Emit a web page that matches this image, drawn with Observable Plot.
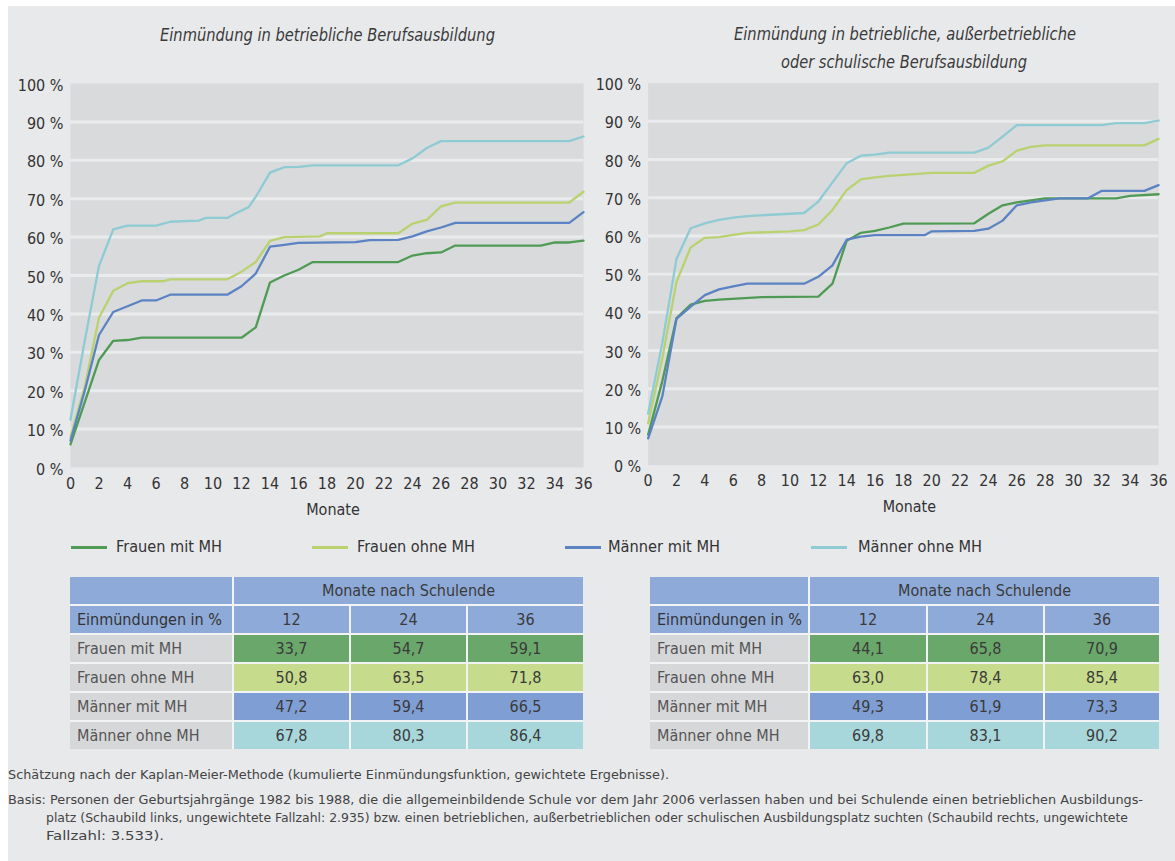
<!DOCTYPE html>
<html><head><meta charset="utf-8">
<script src="https://cdn.jsdelivr.net/npm/d3@7"></script>
<script src="https://cdn.jsdelivr.net/npm/@observablehq/plot@0.6"></script>
<style>
body{margin:0;background:#fff;}
#root{position:relative;width:1175px;height:861px;overflow:hidden;background:#fff;
  font-family:"Liberation Sans Narrow","DejaVu Sans Condensed","Open Sans",sans-serif;font-stretch:condensed;color:#333;}
#panel{position:absolute;left:8px;top:6px;width:1167px;height:855px;background:#e8e9eb;}
.abs{position:absolute;white-space:nowrap;}
.title{font-style:italic;font-weight:300;font-size:17px;color:#3a3a3a;line-height:20px;}
.leg{font-size:16px;color:#333;line-height:18px;}
.sw{position:absolute;height:2.5px;}
.tbl{position:absolute;display:grid;gap:2px;background:#f2f3f4;}
.tbl div{display:flex;align-items:center;justify-content:center;font-size:16px;color:#3a3a3a;white-space:nowrap;}
.tbl div.lab{justify-content:flex-start;padding-left:7px;color:#555;background:#d5d7d9;}
.foot{font-size:13px;color:#444;line-height:16px;}
.plotbox{position:absolute;top:0;}
.plotbox svg{display:block;}
</style>
</head><body>
<div id="root"><div id="panel"></div></div>
<script>
// ---------- data ----------
const seriesNames = ["Frauen mit MH","Frauen ohne MH","Männer mit MH","Männer ohne MH"];
const seriesColors = ["#4f9b55","#b9d26f","#5b82c2","#8ecbd3"];
const cellColors = ["#6aa76a","#c6db8b","#7f9fd4","#a8d7db"];
const headerColor = "#8eaad9";

const xTicks = [0,2,4,6,8,10,12,14,16,18,20,22,24,26,28,30,32,34,36];
const yTicks = [0,10,20,30,40,50,60,70,80,90,100];

// left chart: Einmündung in betriebliche Berufsausbildung  [month, %]
const leftFrauenMit = [[0,6],[1,17],[2,28],[3,33],[4,33.2],[5,33.8],[12,33.8],[13,36.5],[14,48.2],[15,50],[16,51.5],[17,53.5],[23,53.5],[24,55.2],[25,55.8],[26,56],[27,57.8],[33,57.8],[34,58.6],[35,58.6],[36,59.1]];
const leftFrauenOhne = [[0,8],[1,21],[2,39],[3,46],[4,48],[5,48.5],[6.5,48.5],[7,49],[11,49],[12,51],[13,53.5],[14,59],[15,60],[17.5,60.2],[18,61],[23,61],[24,63.5],[25,64.5],[26,68],[27,69],[35,69],[36,71.8]];
const leftMaennerMit = [[0,7],[1,20],[2,34.5],[3,40.5],[4,42],[5,43.5],[6,43.5],[7,45],[11,45],[12,47.2],[13,50.5],[14,57.5],[15,58],[16,58.5],[20,58.7],[21,59.2],[23,59.3],[24,60.2],[25,61.5],[26,62.5],[27,63.7],[35,63.7],[36,66.5]];
const leftMaennerOhne = [[0,12.5],[1,33],[2,52.5],[3,62],[4,63],[6,63],[7,64],[9,64.3],[9.5,65],[11,65],[11.5,66],[12.5,67.8],[13,70.5],[14,76.8],[14.5,77.5],[15,78.2],[16,78.3],[17,78.7],[23,78.7],[24,80.5],[25,83.2],[26,85],[35,85],[36,86.2]];

// right chart: betriebliche, außerbetriebliche oder schulische Berufsausbildung
const rightFrauenMit = [[0,8],[1,22],[2,38.5],[3,42],[4,43],[5,43.3],[8,44],[12,44.1],[13,47.5],[14,58.7],[15,60.8],[16,61.3],[17,62.2],[18,63.2],[23,63.3],[24,65.8],[25,68],[26,68.8],[27,69.3],[28,69.8],[33,69.8],[34,70.5],[36,70.9]];
const rightFrauenOhne = [[0,11],[1,28],[2,48],[3,57],[4,59.5],[5,59.7],[6,60.3],[7,60.8],[10,61.2],[11,61.5],[12,63],[13,66.8],[14,72],[15,74.8],[16,75.3],[17,75.7],[18,76],[20,76.5],[23,76.5],[24,78.4],[25,79.5],[26,82.3],[27,83.3],[28,83.7],[35,83.7],[36,85.4]];
const rightMaennerMit = [[0,7],[1,18],[2,38.3],[3,41.5],[4,44.5],[5,46],[6,46.8],[7,47.5],[11,47.5],[12,49.3],[13,52.3],[14,59],[15,59.8],[16,60.2],[19.5,60.2],[20,61.2],[23,61.3],[24,61.9],[25,64],[26,68],[27,68.8],[28,69.3],[29,69.8],[31,69.8],[32,71.8],[35,71.8],[36,73.3]];
const rightMaennerOhne = [[0,13.5],[1,32],[2,54],[3,62],[4,63.3],[5,64.2],[6,64.8],[7,65.2],[9,65.6],[11,66],[12,69],[13,74],[14,79],[15,81],[16,81.3],[17,81.8],[23,81.8],[24,83.1],[25,86],[26,89],[32,89],[33,89.5],[35,89.5],[36,90.2]];

// tables
const tableMonths = ["12","24","36"];
const tableLeftValues = [[33.7,54.7,59.1],[50.8,63.5,71.8],[47.2,59.4,66.5],[67.8,80.3,86.4]];
const tableRightValues = [[44.1,65.8,70.9],[63.0,78.4,85.4],[49.3,61.9,73.3],[69.8,83.1,90.2]];

const titleLeft = ["Einmündung in betriebliche Berufsausbildung"];
const titleRight = ["Einmündung in betriebliche, außerbetriebliche","oder schulische Berufsausbildung"];
const footLines = [
  "Schätzung nach der Kaplan-Meier-Methode (kumulierte Einmündungsfunktion, gewichtete Ergebnisse).",
  "Basis: Personen der Geburtsjahrgänge 1982 bis 1988, die die allgemeinbildende Schule vor dem Jahr 2006 verlassen haben und bei Schulende einen betrieblichen Ausbildungs-",
  "platz (Schaubild links, ungewichtete Fallzahl: 2.935) bzw. einen betrieblichen, außerbetrieblichen oder schulischen Ausbildungsplatz suchten (Schaubild rechts, ungewichtete",
  "Fallzahl: 3.533)."
];

// ---------- build ----------
const FONT = '"Liberation Sans Narrow","DejaVu Sans Condensed","Open Sans",sans-serif';
const root = document.getElementById("root");

function toRows(list){
  const out = [];
  list.forEach((arr,i)=>arr.forEach(([m,v])=>out.push({series:seriesNames[i], month:m, value:v})));
  return out;
}

function chart(rows){
  return Plot.plot({
    width:600, height:530,
    marginLeft:70, marginRight:17, marginTop:83, marginBottom:63,
    style:{background:"transparent", fontFamily:FONT, fontStretch:"condensed", fontSize:"16px", color:"#333", overflow:"visible"},
    x:{domain:[0,36], label:null},
    y:{domain:[0,100], label:null},
    color:{domain:seriesNames, range:seriesColors},
    marks:[
      Plot.frame({fill:"#d8dadc", stroke:null}),
      Plot.gridY(yTicks.filter(d=>d>0 && d<100), {stroke:"#eaebed", strokeOpacity:1, strokeWidth:3}),
      Plot.axisX(xTicks, {tickSize:0, tickPadding:10, fontSize:16, fill:"#333", label:null}),
      Plot.axisY(yTicks, {tickSize:0, tickPadding:7, fontSize:16, fill:"#333", dy:2, tickFormat:d=>d+" %", label:null}),
      Plot.text(["Monate"], {frameAnchor:"bottom", dx:6, dy:47, fontSize:16, fill:"#333"}),
      Plot.line(rows, {x:"month", y:"value", stroke:"series", z:"series", strokeWidth:2.3})
    ]
  });
}

function place(svg, left){
  const box = document.createElement("div");
  box.className = "plotbox";
  box.style.left = left+"px";
  box.appendChild(svg);
  root.appendChild(box);
}
place(chart(toRows([leftFrauenMit,leftFrauenOhne,leftMaennerMit,leftMaennerOhne])), 0);
place(chart(toRows([rightFrauenMit,rightFrauenOhne,rightMaennerMit,rightMaennerOhne])), 578);

function addText(txt, cls, left, top, width){
  const d = document.createElement("div");
  d.className = "abs "+cls;
  d.textContent = txt;
  d.style.left = left+"px"; d.style.top = top+"px";
  root.appendChild(d);
  if (width){
    const w = d.getBoundingClientRect().width;
    if (w>0){ d.style.transformOrigin = "left center"; d.style.transform = `scaleX(${width/w})`; }
  }
  return d;
}

// titles
addText(titleLeft[0], "title", 160, 25, 335);
addText(titleRight[0], "title", 734, 24, 342);
addText(titleRight[1], "title", 781, 52, 246);

// legend
const legPos = [[71,116,106],[312,357,118],[565,608,112],[811,858,124]];
seriesNames.forEach((n,i)=>{
  const s = document.createElement("div");
  s.className = "sw"; s.style.background = seriesColors[i];
  s.style.left = legPos[i][0]+"px"; s.style.top = "546px"; s.style.width = "36px";
  root.appendChild(s);
  addText(n, "leg", legPos[i][1], 538, legPos[i][2]);
});

// tables
function table(values, left, cols){
  const g = document.createElement("div");
  g.className = "tbl";
  g.style.left = left+"px"; g.style.top = "577px";
  g.style.gridTemplateColumns = cols.map(c=>c+"px").join(" ");
  g.style.gridTemplateRows = "repeat(6, 27px)";
  const cell = (txt, bg, cls, span) => {
    const c = document.createElement("div");
    c.textContent = txt; c.style.background = bg;
    if (cls) c.className = cls;
    if (span) c.style.gridColumn = "span "+span;
    g.appendChild(c);
  };
  cell("", headerColor);
  cell("Monate nach Schulende", headerColor, null, 3);
  cell("Einmündungen in %", headerColor, "lab");
  g.lastChild.style.background = headerColor; g.lastChild.style.color = "#333";
  tableMonths.forEach(m=>cell(m, headerColor));
  values.forEach((row,i)=>{
    cell(seriesNames[i], "#d5d7d9", "lab");
    row.forEach(v=>cell(v.toFixed(1).replace(".",","), cellColors[i]));
  });
  root.appendChild(g);
}
table(tableLeftValues, 70, [162,115,115,115]);
table(tableRightValues, 650, [158,116,115,114]);

// footnotes
addText(footLines[0], "foot", 8, 767, 661);
addText(footLines[1], "foot", 8, 792, 1135);
addText(footLines[2], "foot", 46, 810, 1082);
addText(footLines[3], "foot", 46, 828, 118);
</script>
</body></html>
